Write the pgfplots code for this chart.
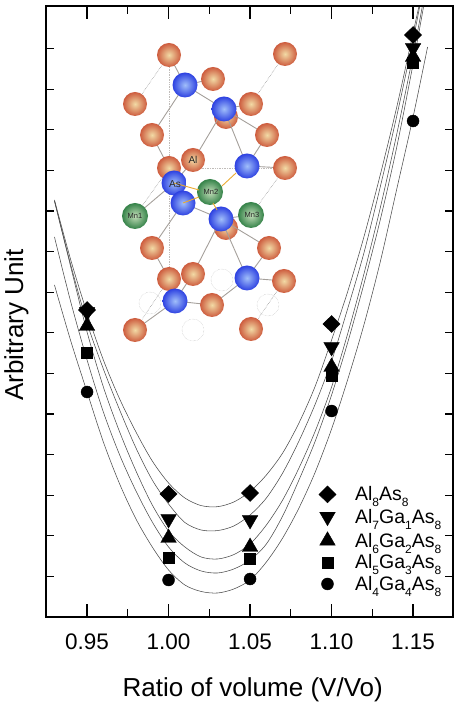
\documentclass[border=0pt]{standalone}
\usepackage{fontspec}
\setmainfont{Liberation Sans}
\usepackage{pgfplots}
\pgfplotsset{compat=1.18}
\definecolor{orI}{RGB}{242,218,165}\definecolor{orO}{RGB}{205,92,62}
\definecolor{blI}{RGB}{160,190,250}\definecolor{blO}{RGB}{45,65,225}
\definecolor{grI}{RGB}{195,222,185}\definecolor{grO}{RGB}{52,130,72}
\definecolor{bond}{RGB}{165,160,155}\definecolor{gold}{RGB}{235,170,50}
\newcommand{\orb}[2]{\shade[inner color=orI,outer color=orO] (#1,#2) circle (12);}
\newcommand{\blb}[2]{\shade[inner color=blI,outer color=blO] (#1,#2) circle (12.5);}
\newcommand{\grb}[2]{\shade[inner color=grI,outer color=grO] (#1,#2) circle (13);}
\newcommand{\ghost}[2]{\draw[gray!60,densely dotted,line width=.4pt] (#1,#2) circle (11);}
\newcommand{\sbs}[1]{\raisebox{-6pt}{\fontsize{12}{12}\selectfont #1}}
\begin{document}
\begin{tikzpicture}
\useasboundingbox (0,0) rectangle (460pt,707pt);
\begin{scope}[x=1pt,y=-1pt,yshift=707pt]
 % inset illustration: crystal structure
 \draw[bond!70,densely dotted,line width=.7pt] (169,55)--(169,279) (193,168)--(285,168);
 \draw[gray,densely dotted,line width=.5pt] (169,55)--(135,104) (285,54)--(251,104) (285,168)--(251,215)
   (169,168)--(135,216) (284,281)--(251,329) (169,279)--(135,330);
 \ghost{150}{303}\ghost{193}{330}\ghost{222}{280}\ghost{268}{305}
 \orb{226}{117}\orb{226}{228}
 \draw[bond,line width=.9pt] (185,85)--(169,55) (185,85)--(213,79) (185,85)--(224,109) (185,85)--(152,135)
   (224,109)--(251,104) (224,109)--(267,135) (224,109)--(193,161) (224,109)--(247,166) (267,135)--(247,166)
   (247,166)--(285,168) (152,135)--(169,168) (174,183)--(193,161) (174,183)--(135,216) (183,203)--(152,248)
   (183,203)--(221,219) (221,219)--(251,215) (221,219)--(193,274) (221,219)--(247,278) (221,219)--(269,248) (152,248)--(169,279)
   (269,248)--(247,278) (247,278)--(284,281) (175,301)--(193,274) (175,301)--(135,330) (175,301)--(212,305) (212,305)--(247,278);
 \orb{169}{55}\orb{135}{104}\orb{152}{135}\orb{169}{168}\orb{193}{160}\orb{152}{248}\orb{169}{279}\orb{193}{274}
 \orb{135}{330}\orb{213}{79}\orb{212}{305}\orb{285}{54}\orb{251}{104}\orb{267}{135}\orb{285}{168}\orb{269}{248}\orb{284}{281}\orb{251}{329}
 \blb{185}{85}\blb{224}{109}\blb{174}{183}\blb{183}{203}\blb{247}{166}\blb{221}{219}\blb{247}{278}\blb{175}{301}
 \grb{135}{216}\grb{210}{192}\grb{251}{215}
 \draw[gold,line width=.9pt] (174,183)--(199,190) (183,203)--(199,197) (222,186)--(236,173) (213,203)--(217,210);
 \node[font=\fontsize{10}{10}\selectfont,text=black!85] at (193,160) {Al};
 \node[font=\fontsize{10}{10}\selectfont,text=black!85] at (175,184) {As};
 \node[font=\fontsize{7.5}{8}\selectfont,text=black!85] at (135,216) {Mn1};
 \node[font=\fontsize{7.5}{8}\selectfont,text=black!85] at (211,192) {Mn2};
 \node[font=\fontsize{7.5}{8}\selectfont,text=black!85] at (252,215) {Mn3};
\end{scope}
\begin{axis}[
  at={(46pt,90pt)},anchor=south west,
  width=407pt,height=611pt,scale only axis,
  xmin=0.9248,xmax=1.1745,ymin=0,ymax=611,
  axis line style={line width=1.5pt},
  xtick={0.95,1.00,1.05,1.10,1.15},
  minor xtick={0.975,1.025,1.075,1.125},
  xticklabels={0.95,1.00,1.05,1.10,1.15},
  ytick={0},
  yticklabels={},
  minor ytick={40.6,81.2,121.8,162.4,203,243.6,284.2,324.8,365.4,406,446.6,487.2,527.8,568.4},
  major tick style={line width=1.2pt,draw=black},
  minor tick style={line width=1.2pt,draw=black},
  major tick length=13pt,minor tick length=8pt,
  tick align=inside,
  xtick pos=both,ytick pos=both,
  tick label style={font=\fontsize{22.5}{24}\selectfont},
  xticklabel style={yshift=-13pt},
  /pgf/number format/assume math mode=true,
  xlabel={Ratio of volume (V/Vo)},
  ylabel={Arbitrary Unit},
  label style={font=\fontsize{26}{28}\selectfont},
  xlabel style={at={(rel axis cs:0.508,-0.1195)},anchor=center},
  ylabel style={at={(rel axis cs:-0.073,0.478)},anchor=center},
  legend style={draw=none,fill=none,at={(rel axis cs:0.67,0.0)},anchor=south west,yshift=25pt,
    font=\fontsize{19.5}{21}\selectfont,row sep=6pt,inner sep=0pt,
    nodes={inner sep=0pt,anchor=west}},
  legend cell align=left,
]
\pgfplotsset{curve/.style={smooth,no marks,line width=.55pt,color=black!70,forget plot}}
\addplot[curve] coordinates {(0.93,417)(0.94,357)(0.95,304)(0.96,257)(0.97,218)(0.98,185)(0.99,156)(1.00,134)(1.01,119)(1.02,111.4)(1.03,110.3)(1.04,115)(1.05,125.5)(1.06,142)(1.07,164)(1.08,194)(1.09,231)(1.10,277)(1.11,326)(1.12,381)(1.13,443)(1.14,510)(1.15,584)(1.1535,610)};
\addplot[curve] coordinates {(0.93,416)(0.94,352)(0.95,294)(0.96,248)(0.97,207)(0.98,169)(0.99,137)(1.00,113)(1.01,94.5)(1.02,87)(1.03,86.4)(1.04,91)(1.05,102)(1.06,119)(1.07,144)(1.08,176)(1.09,213)(1.10,256)(1.11,309)(1.12,365)(1.13,431)(1.14,501)(1.15,577)(1.154,610)};
\addplot[curve] coordinates {(0.93,416)(0.94,350)(0.95,285)(0.96,230)(0.97,185)(0.98,146)(0.99,112)(1.00,86)(1.01,70)(1.02,60)(1.03,58)(1.04,62.4)(1.05,73)(1.06,92)(1.07,117)(1.08,149)(1.09,186)(1.10,230)(1.11,284)(1.12,344)(1.13,410)(1.14,483)(1.15,562)(1.1556,610)};
\addplot[curve] coordinates {(0.93,380)(0.94,315)(0.95,257)(0.96,205)(0.97,162)(0.98,126)(0.99,95)(1.00,70)(1.01,54)(1.02,46)(1.03,44)(1.04,48)(1.05,57)(1.06,73)(1.07,101)(1.08,137)(1.09,176)(1.10,222)(1.11,275)(1.12,334)(1.13,398)(1.14,470)(1.15,553)(1.1564,610)};
\addplot[curve] coordinates {(0.93,332)(0.94,276)(0.95,225)(0.96,175)(0.97,133)(0.98,98)(0.99,70)(1.00,47)(1.01,32)(1.02,25.5)(1.03,24)(1.04,28)(1.05,37)(1.06,55)(1.07,79)(1.08,109)(1.09,145)(1.10,188)(1.11,238)(1.12,293)(1.13,356)(1.14,428)(1.15,500)(1.1589,570)};
\addplot[only marks,mark=diamond*,black,mark size=8.5pt,mark options={xscale=1.35}] coordinates {(0.95,307)(1.00,123)(1.05,124)(1.10,293)(1.15,582)};
\addlegendentry{\hspace*{19pt}Al\sbs{8}As\sbs{8}}
\addplot[only marks,mark=triangle*,black,mark size=9pt,mark options={rotate=180}] coordinates {(0.95,305)(1.00,98)(1.05,97)(1.10,270)(1.15,569)};
\addlegendentry{\hspace*{19pt}Al\sbs{7}Ga\sbs{1}As\sbs{8}}
\addplot[only marks,mark=triangle*,black,mark size=9pt] coordinates {(0.95,291)(1.00,79)(1.05,70)(1.10,250)(1.15,560)};
\addlegendentry{\hspace*{19pt}Al\sbs{6}Ga\sbs{2}As\sbs{8}}
\addplot[only marks,mark=square*,black,mark size=5.5pt] coordinates {(0.95,264)(1.00,59)(1.05,58)(1.10,241)(1.15,554)};
\addlegendentry{\hspace*{19pt}Al\sbs{5}Ga\sbs{3}As\sbs{8}}
\addplot[only marks,mark=*,black,mark size=6pt] coordinates {(0.95,225)(1.00,37)(1.05,38)(1.10,206)(1.15,496)};
\addlegendentry{\hspace*{19pt}Al\sbs{4}Ga\sbs{4}As\sbs{8}}
\end{axis}
\end{tikzpicture}
\end{document}
